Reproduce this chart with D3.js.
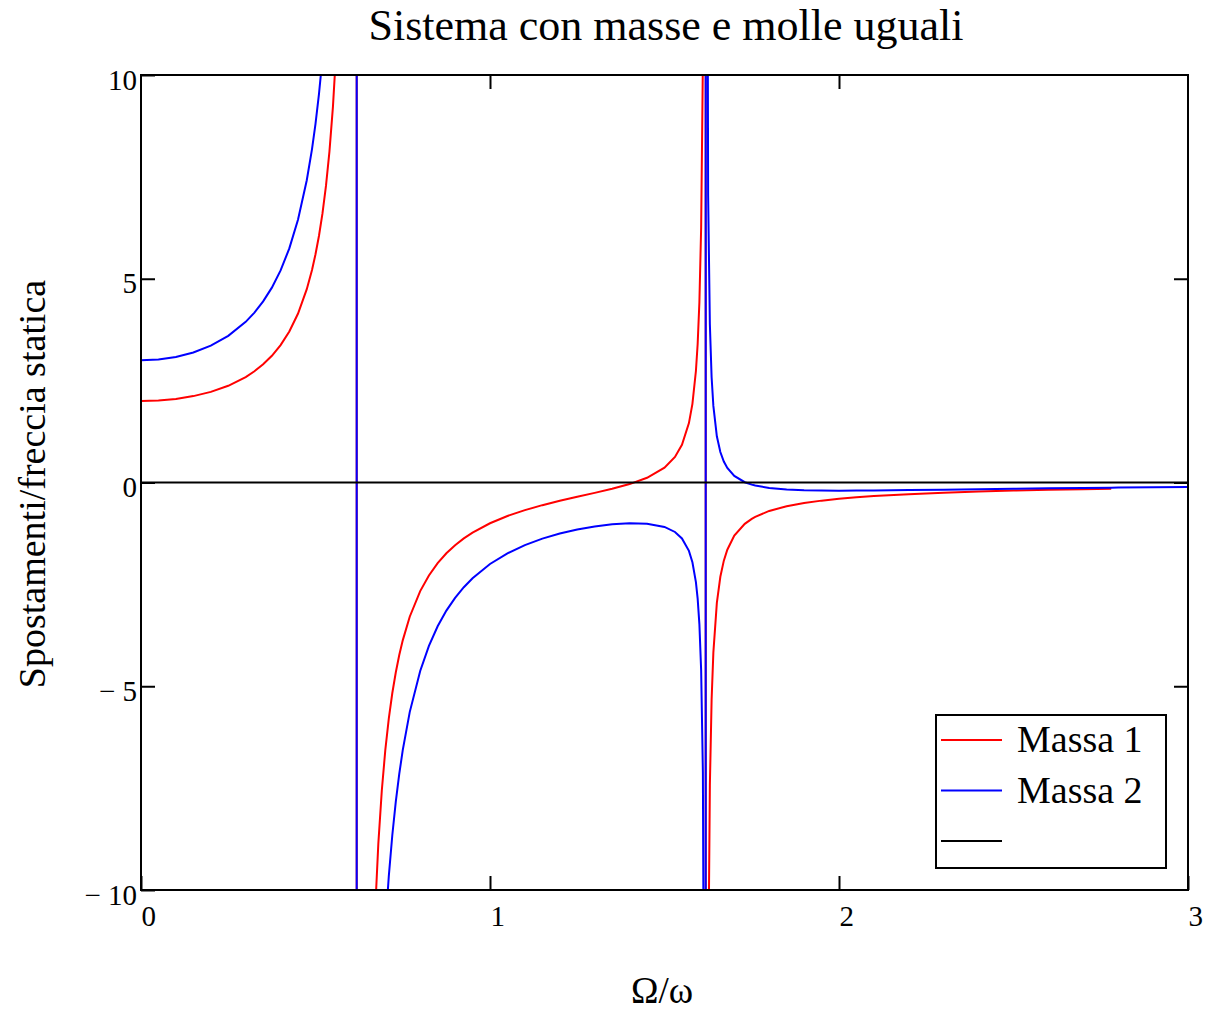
<!DOCTYPE html>
<html>
<head>
<meta charset="utf-8">
<title>Sistema con masse e molle uguali</title>
<script src="https://cdn.jsdelivr.net/npm/d3@7"></script>
<style>
    body { margin: 0; background: #fff; }
    text { font-family: "Liberation Serif", "Times New Roman", serif; fill: #000; }
</style>
</head>
<body>
<div class="plot"></div>
<script>
// Omega/omega samples (shared by both masses)
var omega = [
    0, 0.05, 0.1, 0.15, 0.2, 0.25, 0.3, 0.325, 0.35, 0.375,
    0.4, 0.425, 0.45, 0.475, 0.49, 0.5, 0.51, 0.52, 0.53, 0.54,
    0.55, 0.56, 0.58, 0.59, 0.6, 0.6179, 0.6182, 0.63, 0.64, 0.66,
    0.67, 0.68, 0.69, 0.7, 0.71, 0.72, 0.73, 0.74, 0.75, 0.77,
    0.8, 0.825, 0.85, 0.875, 0.9, 0.925, 0.95, 1, 1.05, 1.1,
    1.15, 1.2, 1.25, 1.3, 1.35, 1.4, 1.45, 1.5, 1.53, 1.55,
    1.57, 1.58, 1.59, 1.595, 1.6, 1.605, 1.61, 1.615, 1.6179, 1.6182,
    1.62, 1.625, 1.63, 1.635, 1.64, 1.65, 1.66, 1.67, 1.68, 1.7,
    1.73, 1.75, 1.76, 1.8, 1.85, 1.9, 1.95, 2, 2.05, 2.1,
    2.2, 2.3, 2.4, 2.5, 2.6, 2.7, 2.78, 2.8, 2.9, 3
];

// Massa 1 (red), the trace stops near 2.78
var massa1 = [
    2, 2.013, 2.051, 2.12, 2.223, 2.373, 2.588, 2.729, 2.9, 3.11,
    3.372, 3.707, 4.147, 4.744, 5.217, 5.6, 6.055, 6.604, 7.278, 8.126,
    9.225, 10.7, 16.0, 21.49, 33.06, 4373, -3525, -48.33, -26.06, -13.37,
    -10.68, -8.868, -7.558, -6.568, -5.794, -5.172, -4.662, -4.235, -3.874, -3.294,
    -2.665, -2.28, -1.979, -1.737, -1.538, -1.371, -1.229, -1, -0.822, -0.678,
    -0.556, -0.449, -0.351, -0.255, -0.155, -0.039, 0.116, 0.364, 0.628, 0.924,
    1.458, 1.93, 2.736, 3.4, 4.43, 6.25, 10.33, 27.85, 637, -515,
    -43.74, -12.56, -7.429, -5.324, -4.176, -2.955, -2.314, -1.918, -1.649, -1.305,
    -1.015, -0.892, -0.843, -0.698, -0.582, -0.503, -0.445, -0.4, -0.364, -0.334,
    -0.287, -0.251, -0.223, -0.199, -0.18, -0.164, -0.153, null, null, null
];

// Massa 2 (blue)
var massa2 = [
    3, 3.02, 3.082, 3.191, 3.358, 3.598, 3.943, 4.169, 4.444, 4.782,
    5.205, 5.745, 6.453, 7.418, 8.181, 8.8, 9.535, 10.42, 11.51, 12.88,
    14.66, 17.05, 25.62, 34.5, 53.23, 7076, -5703, -78.48, -42.45, -21.91,
    -17.57, -14.64, -12.52, -10.92, -9.667, -8.663, -7.839, -7.151, -6.568, -5.635,
    -4.624, -4.008, -3.528, -3.144, -2.83, -2.569, -2.349, -2, -1.738, -1.535,
    -1.377, -1.252, -1.154, -1.079, -1.027, -1.002, -1.012, -1.091, -1.214, -1.372,
    -1.678, -1.958, -2.445, -2.85, -3.481, -4.6, -7.117, -17.94, -394, 318,
    26.31, 7.05, 3.88, 2.584, 1.88, 1.135, 0.749, 0.513, 0.356, 0.161,
    0.007, -0.053, -0.075, -0.135, -0.173, -0.191, -0.198, -0.2, -0.199, -0.195,
    -0.186, -0.175, -0.163, -0.153, -0.142, -0.133, -0.126, -0.124, -0.116, -0.109
];

// third trace: the zero line
var omegaZero = [0, 3];
var lineaZero = [0, 0];

var xTicks = [0, 1, 2, 3];
var yTicks = [10, 5, 0, -5, -10];
var legendLabels = ["Massa 1", "Massa 2", ""];
var colori = ["#ff0000", "#0000ff", "#000000"];

var margin = {top: 75, right: 17, bottom: 122, left: 141},
    width = 1205 - margin.left - margin.right,
    height = 1012 - margin.top - margin.bottom;

var xScale = d3.scaleLinear().domain([0, 3]).range([0, width]);
var yScale = d3.scaleLinear().domain([-10, 10]).range([height, 0]);

var root = d3.select(".plot").append("svg")
    .attr("width", 1205)
    .attr("height", 1012);

var svg = root.append("g")
    .attr("transform", "translate(" + margin.left + "," + margin.top + ")");

svg.append("clipPath")
    .attr("id", "clip")
    .append("rect")
    .attr("width", width)
    .attr("height", height);

// build the traces from the arrays
var trace1 = omega.map(function(d, i) { return {x: d, y: massa1[i]}; });
var trace2 = omega.map(function(d, i) { return {x: d, y: massa2[i]}; });
var trace3 = omegaZero.map(function(d, i) { return {x: d, y: lineaZero[i]}; });

var line = d3.line()
    .defined(function(d) { return d.y !== null; })
    .x(function(d) { return xScale(d.x); })
    .y(function(d) { return yScale(d.y); });

var curves = svg.append("g").attr("clip-path", "url(#clip)");
[trace1, trace2, trace3].forEach(function(t, i) {
    curves.append("path")
        .datum(t)
        .attr("fill", "none")
        .attr("stroke", colori[i])
        .attr("stroke-width", 2)
        .attr("d", line);
});

// inward ticks on all four sides
var fmt = function(d) { return d < 0 ? "\u2212 " + Math.abs(d) : String(d); };

var xAxis = svg.append("g")
    .attr("transform", "translate(0," + height + ")")
    .call(d3.axisBottom(xScale).tickValues(xTicks).tickFormat(fmt).tickSizeInner(-14).tickSizeOuter(0));
xAxis.selectAll("text")
    .attr("y", 36).attr("dy", null)
    .attr("text-anchor", "start");

var yAxis = svg.append("g")
    .call(d3.axisLeft(yScale).tickValues(yTicks).tickFormat(fmt).tickSizeInner(-14).tickSizeOuter(0));
yAxis.selectAll("text")
    .attr("x", -4).attr("y", 14).attr("dy", null);

svg.append("g")
    .call(d3.axisTop(xScale).tickValues([1, 2]).tickFormat("").tickSizeInner(-14).tickSizeOuter(0));
svg.append("g")
    .attr("transform", "translate(" + width + ",0)")
    .call(d3.axisRight(yScale).tickValues([5, 0, -5]).tickFormat("").tickSizeInner(-14).tickSizeOuter(0));

svg.selectAll(".domain").remove();
svg.selectAll(".tick line").attr("stroke", "#000").attr("stroke-width", 2);
svg.selectAll(".tick text")
    .attr("font-family", "Liberation Serif, Times New Roman, serif")
    .style("font-size", "29px");

// plot frame
svg.append("rect")
    .attr("width", width)
    .attr("height", height)
    .attr("fill", "none")
    .attr("stroke", "#000")
    .attr("stroke-width", 2);

// legend
var legend = svg.append("g").attr("transform", "translate(795,640)");
legend.append("rect")
    .attr("width", 230)
    .attr("height", 153)
    .attr("fill", "#fff")
    .attr("stroke", "#000")
    .attr("stroke-width", 2);

var rows = legend.selectAll(".row")
    .data(legendLabels)
    .enter().append("g")
    .attr("class", "row")
    .attr("transform", function(d, i) { return "translate(0," + (25 + i * 50.5) + ")"; });
rows.append("line")
    .attr("x1", 5).attr("x2", 66)
    .attr("stroke", function(d, i) { return colori[i]; })
    .attr("stroke-width", 2);
rows.append("text")
    .attr("x", 81)
    .attr("y", 12)
    .style("font-size", "38px")
    .text(function(d) { return d; });

// titles
root.append("text")
    .attr("x", 666)
    .attr("y", 40)
    .attr("text-anchor", "middle")
    .style("font-size", "44px")
    .text("Sistema con masse e molle uguali");

root.append("text")
    .attr("transform", "translate(45,484) rotate(-90)")
    .attr("text-anchor", "middle")
    .style("font-size", "38px")
    .text("Spostamenti/freccia statica");

root.append("text")
    .attr("x", 662)
    .attr("y", 1003)
    .attr("text-anchor", "middle")
    .style("font-size", "37px")
    .text("\u03A9/\u03C9");
</script>
</body>
</html>
